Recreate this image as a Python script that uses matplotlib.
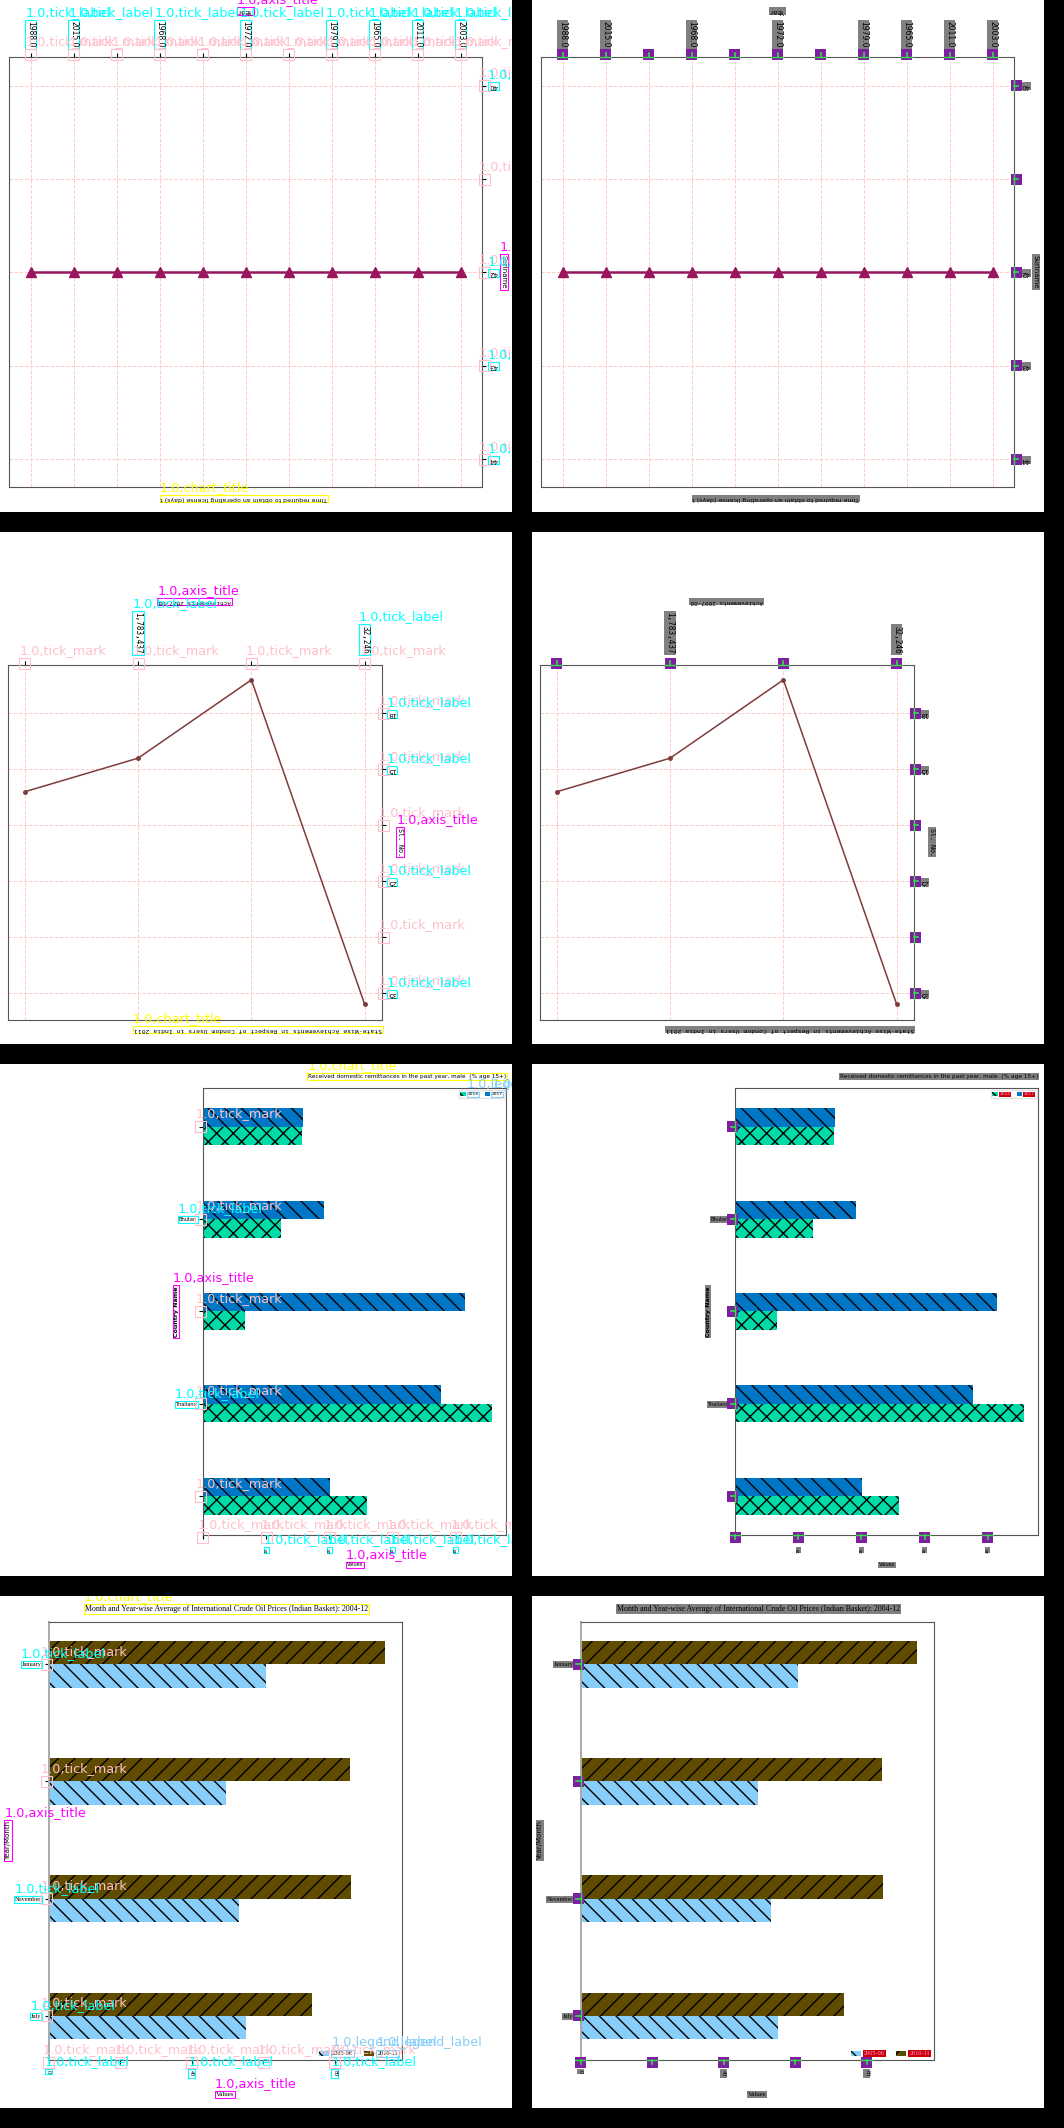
import numpy as np
import matplotlib
matplotlib.use('Agg')
import matplotlib.pyplot as plt
from matplotlib.patches import Rectangle
from matplotlib.lines import Line2D
from matplotlib.transforms import Bbox
from matplotlib import font_manager

# chart 1 - time to get an operating license (drawn upside down)
lic_years = ['1988.0', '2015.0', '', '1968.0', '', '1972.0', '', '1979.0', '1965.0', '2011.0', '2003.0']
lic_days = [42, 42, 42, 42, 42, 42, 42, 42, 42, 42, 42]
lic_yticks = [40, 41, 42, 43, 44]
lic_ylabels = ['40', '', '42', '43', '44']

# chart 2 - condom users (also upside down)
cu_labels = ['', '1,783,437', '', '32,246']
cu_slno = [17, 14, 7, 36]
cu_yticks = [10, 15, 20, 25, 30, 35]
cu_ylabels = ['10', '15', '', '25', '', '35']

# chart 3 - domestic remittances
rem_countries = ['', 'Bhutan', '', 'Thailand', '']
rem_2014 = [15.6, 12.4, 6.6, 45.7, 25.9]
rem_2017 = [15.9, 19.1, 41.5, 37.6, 20.1]
rem_xticks = [0, 10, 20, 30, 40]
rem_xlabels = ['', '10', '20', '30', '40']

# chart 4 - crude oil prices
oil_months = ['January', '', 'November', 'July']
oil_0506 = [60.7, 49.6, 53.2, 55.1]
oil_1011 = [94.0, 84.3, 84.5, 73.7]
oil_xticks = [0, 20, 40, 60, 80]
oil_xlabels = ['0', '', '40', '', '80']

W, H = 1064, 2128
PANEL = 512
STEP = 532

names = {f.name for f in font_manager.fontManager.ttflist}
if 'Liberation Sans Narrow' in names:
    NARROW, NS = 'Liberation Sans Narrow', 1.0
else:
    NARROW, NS = 'DejaVu Sans', 0.8
MONO = 'DejaVu Sans Mono'
SERIF = 'Liberation Serif'

ANN = {'tick_mark': '#ffc0cb', 'tick_label': '#00ffff', 'axis_title': '#ff00ff',
       'chart_title': '#ffff00', 'legend_label': '#87cefa'}

fig = plt.figure(figsize=(W / 100, H / 100), dpi=100, facecolor='black')


def panel_ax(col, row, l, t, r, b):
    x0, y0 = col * STEP, row * STEP
    fig.add_artist(Rectangle((x0 / W, 1 - (y0 + PANEL) / H), PANEL / W, PANEL / H,
                             transform=fig.transFigure, fc='white', ec='none', zorder=-10))
    return fig.add_axes([(x0 + l) / W, 1 - (y0 + b) / H, (r - l) / W, (b - t) / H])


def draw_license(ax):
    x = np.arange(len(lic_years))
    ax.plot(x, lic_days, color='#99165f', lw=1.8, marker='^', ms=6.5, zorder=3)
    ax.set_xlim(-0.52, 10.5)
    ax.set_ylim(44.3, 39.69)
    ax.xaxis.tick_top()
    ax.yaxis.tick_right()
    ax.set_xticks(x, lic_years, rotation=270, fontsize=5.5)
    ax.set_yticks(lic_yticks, lic_ylabels, rotation=180, fontsize=5)
    ax.tick_params(length=3, pad=2)
    ax.tick_params(axis='x', pad=3.5)
    ax.grid(True, color='#ffcaca', ls='--', lw=0.7)
    ax.xaxis.set_label_position('top')
    ax.set_xlabel('Year', fontsize=5, rotation=180, ha='center', va='center')
    ax.xaxis.set_label_coords(0.5, 1.106)
    ax.yaxis.set_label_position('right')
    ax.set_ylabel('Suriname', fontsize=5, rotation=270, ha='center', va='center')
    ax.yaxis.set_label_coords(1.0456, 0.5)
    title = ax.text(0.497, -0.027, 'Time required to obtain an operating license (days) t',
                    transform=ax.transAxes, rotation=180, ha='center', va='center', fontsize=4.5)
    for s in ax.spines.values():
        s.set_color('#555555')
    return [ax.xaxis.label, ax.yaxis.label], [title], []


def draw_condom(ax):
    x = np.arange(len(cu_labels))
    ax.plot(x, cu_slno, color='#7f3b3b', lw=1.1, marker='o', ms=2.5, zorder=3)
    ax.set_xlim(-0.15, 3.15)
    ax.set_ylim(37.4, 5.7)
    ax.xaxis.tick_top()
    ax.yaxis.tick_right()
    ax.set_xticks(x, cu_labels, rotation=270, fontsize=5.5, family=MONO)
    ax.set_yticks(cu_yticks, cu_ylabels, rotation=180, fontsize=5, family=MONO)
    ax.tick_params(length=3)
    ax.tick_params(axis='x', pad=5.6)
    ax.tick_params(axis='y', pad=1.5)
    ax.grid(True, color='#ffcaca', ls='--', lw=0.7)
    ax.xaxis.set_label_position('top')
    ax.set_xlabel('Achievements 2007-08', fontsize=4.3, family=MONO, rotation=180, ha='center', va='center')
    ax.xaxis.set_label_coords(0.499, 1.179)
    ax.yaxis.set_label_position('right')
    ax.set_ylabel('Sl. No.', fontsize=4.8, family=MONO, rotation=270, ha='center', va='center')
    ax.yaxis.set_label_coords(1.05, 0.503)
    title = ax.text(1.0, -0.028, 'State-Wise Achievements in Respect of Condom Users in India 2011',
                    transform=ax.transAxes, rotation=180, ha='right', va='center', fontsize=4.6, family=MONO)
    for s in ax.spines.values():
        s.set_color('#555555')
    return [ax.xaxis.label, ax.yaxis.label], [title], []


def draw_remit(ax):
    y = np.arange(len(rem_countries))
    ax.barh(y + 0.1, rem_2014, height=0.2, color='#00dca8', hatch='xx', ec='black', lw=0, label='2014')
    ax.barh(y - 0.1, rem_2017, height=0.2, color='#0077c6', hatch='\\\\', ec='black', lw=0, label='2017')
    ax.set_xlim(0, 48)
    ax.set_ylim(4.42, -0.415)
    ax.set_yticks(y, rem_countries, fontsize=4.5 * NS, family=NARROW)
    ax.set_xticks(rem_xticks, rem_xlabels, rotation=90, fontsize=3.8 * NS, family=NARROW)
    ax.tick_params(length=3)
    ax.tick_params(axis='y', pad=1.4)
    ax.tick_params(axis='x', pad=5.8)
    ax.set_xlabel('Values', fontsize=4.5 * NS, family=NARROW, ha='center', va='center')
    ax.xaxis.set_label_coords(0.5, -0.067)
    ax.set_ylabel('Country Name', fontsize=4.5, fontweight='bold', ha='center', va='center')
    ax.yaxis.set_label_coords(-0.089, 0.5)
    title = ax.text(1.0, 1.026, 'Received domestic remittances in the past year, male  (% age 15+)',
                    transform=ax.transAxes, ha='right', va='center', fontsize=5.2 * NS, family=NARROW)
    leg = ax.legend(loc='upper right', ncol=2, prop={'family': NARROW, 'size': 4 * NS},
                    handlelength=1.2, handleheight=0.9, columnspacing=1.4, handletextpad=0.4,
                    borderpad=0.4, borderaxespad=0.4, fancybox=False, edgecolor='#dddddd')
    for s in ax.spines.values():
        s.set_color('#555555')
    return [ax.xaxis.label, ax.yaxis.label], [title], leg.get_texts()


def draw_oil(ax):
    y = np.arange(len(oil_months))
    ax.barh(y + 0.1, oil_0506, height=0.2, color='#87cefa', hatch='\\\\', ec='black', lw=0, label='2005-06')
    ax.barh(y - 0.1, oil_1011, height=0.2, color='#604c00', hatch='//', ec='black', lw=0, label='2010-11')
    ax.set_xlim(0, 98.7)
    ax.set_ylim(3.376, -0.362)
    ax.set_yticks(y, oil_months, fontsize=4.5, family=SERIF)
    ax.set_xticks(oil_xticks, oil_xlabels, rotation=270, fontsize=4.5, family=SERIF)
    ax.tick_params(length=3)
    ax.tick_params(axis='y', pad=2)
    ax.tick_params(axis='x', pad=4.4)
    ax.set_xlabel('Values', fontsize=5, family=SERIF, ha='center', va='center')
    ax.xaxis.set_label_coords(0.5, -0.078)
    ax.set_ylabel('Year/Month', fontsize=5, ha='center', va='center')
    ax.yaxis.set_label_coords(-0.114, 0.501)
    title = ax.text(0.504, 1.029, 'Month and Year-wise Average of International Crude Oil Prices (Indian Basket): 2004-12',
                    transform=ax.transAxes, ha='center', va='center', fontsize=5.7, family=SERIF)
    leg = ax.legend(loc='lower right', ncol=2, prop={'family': SERIF, 'size': 4.5},
                    handlelength=1.6, handleheight=0.9, columnspacing=1.8, handletextpad=0.5,
                    borderpad=0.3, borderaxespad=0.3, frameon=False)
    for s in ax.spines.values():
        s.set_color('#555555')
    ax.spines['left'].set_color('#aaaaaa')
    ax.spines['left'].set_linewidth(1.4)
    return [ax.xaxis.label, ax.yaxis.label], [title], leg.get_texts()


charts = [
    (draw_license, (8.5, 56.7, 482, 487.3)),
    (draw_condom, (7.8, 133.3, 381.7, 488)),
    (draw_remit, (203, 24.3, 506.3, 471)),
    (draw_oil, (48.5, 25.6, 401.8, 464.1)),
]

panels = []
for row, (func, rect) in enumerate(charts):
    for col in range(2):
        ax = panel_ax(col, row, *rect)
        axis_titles, chart_titles, legend_texts = func(ax)
        items = []
        for t in ax.get_xticklabels() + ax.get_yticklabels():
            if t.get_text():
                items.append(('tick_label', t))
        items += [('axis_title', t) for t in axis_titles]
        items += [('chart_title', t) for t in chart_titles]
        items += [('legend_label', t) for t in legend_texts]
        # boxes behind / around the texts
        for kind, t in items:
            if col == 0:
                t.set_bbox(dict(boxstyle='square,pad=0.15', fc='none', ec=ANN[kind], lw=0.8))
            elif kind == 'legend_label':
                t.set_color('#ff99ff')
                t.set_bbox(dict(boxstyle='square,pad=0.15', fc='#cc0000', ec='none'))
            else:
                t.set_bbox(dict(boxstyle='square,pad=0.15', fc='#808080', ec='none'))
        panels.append((ax, col, row, items))

fig.canvas.draw()
renderer = fig.canvas.get_renderer()


def collect_ticks(ax):
    out = []
    dirs = {0: (-1, 0), 1: (1, 0), 2: (0, 1), 3: (0, -1)}
    for axis in (ax.xaxis, ax.yaxis):
        nloc = len(axis.get_majorticklocs())
        for tick in axis.get_major_ticks()[:nloc]:
            for line in (tick.tick1line, tick.tick2line):
                if not line.get_visible():
                    continue
                px, py = line.get_transform().transform(line.get_xydata()[0])
                dx, dy = dirs.get(line.get_marker(), (0, -1))
                L = line.get_markersize() * 100 / 72
                out.append((px, py, dx, dy, L))
    return out


def fig_text(x, y, s, color, clip):
    t = fig.text(x / W, y / H, s, color=color, fontsize=9.2, ha='left', va='bottom', zorder=20)
    t.set_clip_box(clip)
    t.set_clip_on(True)


def fig_rect(x, y, w, h, **kw):
    fig.add_artist(Rectangle((x / W, y / H), w / W, h / H, transform=fig.transFigure, zorder=15, **kw))


def fig_line(xs, ys, **kw):
    fig.add_artist(Line2D([v / W for v in xs], [v / H for v in ys], transform=fig.transFigure, zorder=16, **kw))


BOX = 11
for ax, col, row, items in panels:
    x0 = col * STEP
    top = H - row * STEP
    clip = Bbox([[x0, top - PANEL], [x0 + PANEL, top]])
    ticks = collect_ticks(ax)
    if col == 0:
        for px, py, dx, dy, L in ticks:
            cx, cy = px + dx * L / 2, py + dy * L / 2
            fig_rect(cx - BOX / 2, cy - BOX / 2, BOX, BOX, fc='none', ec=ANN['tick_mark'], lw=0.8)
            fig_text(cx - BOX / 2, cy + BOX / 2 + 1, '1.0,tick_mark', ANN['tick_mark'], clip)
        for kind, t in items:
            bb = t.get_window_extent(renderer)
            pad = 0.15 * t.get_fontsize() * 100 / 72
            fig_text(bb.x0 - pad, bb.y1 + pad + 1, '1.0,' + kind, ANN[kind], clip)
    else:
        for px, py, dx, dy, L in ticks:
            cx, cy = px + dx * L / 2, py + dy * L / 2
            fig_rect(cx - BOX / 2, cy - BOX / 2, BOX, BOX, fc='#7d1fa0', ec='none')
            fig_line([px, px + dx * L], [py, py + dy * L], color='#33dd44', lw=1.2)
            fig_line([px - abs(dy) * BOX / 2, px + abs(dy) * BOX / 2],
                     [py - abs(dx) * BOX / 2, py + abs(dx) * BOX / 2], color='#33dd44', lw=1.0)

fig.savefig('out.png', dpi=100, facecolor='black')
